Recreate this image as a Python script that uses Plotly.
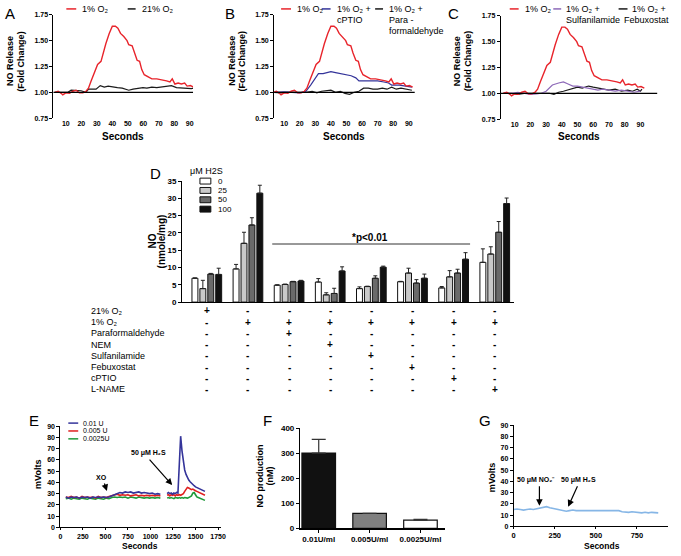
import plotly.graph_objects as go

W, H = 681, 556
FONT = "Liberation Sans, Arial, sans-serif"

# ---------------- Panels A-C : NO release (fold change) vs seconds ----------------
t_1pct = [2.8, 5, 7, 8, 10, 12.4, 14.5, 16.6, 18.7, 21, 23, 24.6, 26.3, 28.4, 30.5, 32.7, 33.7, 35.8, 38, 40,
          42, 43.6, 45.3, 47.4, 49.5, 50.6, 52.8, 54.2, 56, 57.6, 59, 60.6, 63.4, 65.5, 68.7, 73, 75, 77.2, 78.7,
          80.4, 82.5, 84.6, 86.7, 88.3, 90.4, 92.5]
o2_1pct = [1.00, 1.01, 0.99, 0.975, 0.995, 0.99, 1.01, 1.02, 0.995, 0.995, 1.01, 1.04, 1.11, 1.19, 1.27, 1.30,
           1.36, 1.47, 1.57, 1.64, 1.64, 1.62, 1.57, 1.54, 1.50, 1.46, 1.45, 1.38, 1.31, 1.30, 1.22, 1.17, 1.15,
           1.13, 1.13, 1.12, 1.11, 1.10, 1.13, 1.08, 1.09, 1.08, 1.09, 1.06, 1.065, 1.05]

t_21pct = [2.8, 11.3, 13.4, 16.6, 19.8, 23, 24.6, 26.7, 29.5, 32.2, 34.8, 37.3, 40.1, 43.3, 46.4, 49.2, 50.6,
           53.4, 56.4, 59.8, 62.3, 65.5, 68.7, 71.9, 75, 78.2, 81.4, 84.6, 87.8, 91, 92.5]
o2_21pct = [1.00, 1.00, 1.02, 1.02, 1.015, 1.00, 1.03, 1.03, 1.03, 1.065, 1.05, 1.06, 1.05, 1.045, 1.04, 1.03,
            1.02, 1.03, 1.035, 1.045, 1.04, 1.05, 1.045, 1.05, 1.06, 1.065, 1.045, 1.04, 1.035, 1.035, 1.04]

t_cptio = [3, 10, 20, 24, 27, 30, 32, 35, 38, 40, 43, 46, 50, 53, 56, 58, 60, 65, 70, 74, 77, 79, 81, 84, 88, 92]
o2_cptio = [1.00, 1.005, 0.995, 1.01, 1.07, 1.13, 1.18, 1.18, 1.19, 1.20, 1.19, 1.18, 1.17, 1.16, 1.14, 1.11,
            1.11, 1.11, 1.11, 1.10, 1.09, 1.07, 1.07, 1.07, 1.06, 1.05]

t_para = [3, 8, 12, 16, 20, 24, 28, 31, 34, 37, 40, 43, 46, 49, 52, 55, 58, 61, 64, 67, 70, 73, 76, 79, 82, 85,
          88, 92]
o2_para = [1.00, 0.995, 1.00, 1.00, 0.995, 1.00, 1.01, 0.995, 1.01, 1.015, 1.02, 1.00, 1.01, 0.99, 0.98, 1.00,
           1.01, 1.04, 1.04, 1.03, 1.03, 1.04, 1.03, 1.05, 1.03, 1.04, 1.03, 1.02]

t_sulf = [3, 8, 12, 16, 20, 24, 27, 30, 34, 38, 41, 44, 47, 50, 53, 56, 60, 63, 66, 70, 74, 78, 82, 86, 90]
o2_sulf = [1.00, 1.00, 1.01, 1.00, 0.99, 0.995, 1.00, 1.02, 1.08, 1.10, 1.11, 1.09, 1.07, 1.07, 1.06, 1.05,
           1.04, 1.03, 1.04, 1.03, 1.02, 1.03, 1.02, 1.01, 1.02]

t_febux = [3, 8, 12, 16, 20, 24, 28, 32, 35, 38, 41, 45, 50, 53, 57, 60, 63, 67, 70, 74, 78, 82, 85, 88, 90, 91]
o2_febux = [1.00, 1.00, 0.99, 1.00, 1.00, 1.00, 1.00, 1.00, 0.99, 1.01, 1.02, 1.04, 1.06, 1.05, 1.07, 1.06,
            1.05, 1.04, 1.03, 1.04, 1.02, 1.03, 1.02, 1.04, 1.02, 1.04]

abc_ticks = [10, 20, 30, 40, 50, 60, 70, 80, 90]
fold_ticks = [0.75, 1.00, 1.25, 1.50, 1.75]

# ---------------- Panel D : NO (nmole/mg) ----------------
d_groups = [0, 1, 2, 3, 4, 5, 6, 7]
h2s_levels = ["0", "25", "50", "100"]
h2s_0 = [6.9, 9.6, 4.9, 5.8, 3.9, 5.9, 4.1, 11.5]
h2s_25 = [3.9, 17.0, 5.1, 2.1, 4.5, 8.4, 7.3, 13.9]
h2s_50 = [8.1, 22.3, 5.9, 2.5, 6.9, 5.5, 8.4, 20.2]
h2s_100 = [8.0, 31.5, 6.1, 9.0, 10.1, 6.9, 12.4, 28.5]
err_0 = [0.1, 1.3, 0.1, 1.0, 0.5, 0.1, 0.4, 3.9]
err_25 = [2.4, 3.2, 0.1, 0.6, 0.1, 1.4, 1.8, 2.1]
err_50 = [0.2, 2.1, 0.1, 1.5, 0.7, 1.0, 1.1, 3.1]
err_100 = [1.8, 2.3, 0.2, 1.2, 0.3, 1.2, 1.9, 1.6]
d_ticks = [0, 5, 10, 15, 20, 25, 30, 35]
sig_level = 16.8
row_labels = ["21% O₂", "1% O₂", "Paraformaldehyde", "NEM", "Sulfanilamide",
              "Febuxostat", "cPTIO", "L-NAME"]
row_signs = [
    "+-------",
    "-+++++++",
    "--+-----",
    "---+----",
    "----+---",
    "-----+--",
    "------+-",
    "-------+",
]

# ---------------- Panel E : mVolts vs seconds ----------------
e_t1 = [60, 90, 120, 150, 180, 210, 240, 270, 300, 330, 360, 390, 420, 450, 480, 510, 540, 570, 600, 630, 660,
        690, 720, 750, 780, 810, 840, 870, 900, 930, 960, 990, 1020, 1050, 1080, 1110]
e_blue1 = [27, 26, 27, 26.5, 27, 26, 27, 26.5, 27, 26, 27, 26.5, 27, 26.5, 27, 26.5, 27,
           28, 29.5, 30, 31, 30.5, 31.5, 31, 31.5, 30.5, 31, 31.5, 30.5, 31, 30.5, 30, 30.5, 29.5, 30, 29.5]
e_red1 = [27, 26.5, 27.5, 26.5, 27, 26, 27.5, 26.5, 27, 26.5, 27, 26, 27.5, 26.5, 27, 26.5, 27.5,
          28, 29, 29.5, 28.5, 29, 28.5, 29, 28, 28.5, 29, 28, 28.5, 28, 28.5, 28, 28.5, 28, 28.5, 28]
e_green1 = [25.5, 26, 25, 26, 25.5, 25, 26, 25.5, 25, 26, 25.5, 25, 26, 25.5, 25, 26, 25.5,
            26.5, 27, 26.5, 27, 26.5, 27, 26, 27, 26.5, 26, 27, 26.5, 26, 26.5, 26, 26.5, 26, 26.5, 26]
e_t2 = [1185, 1200, 1215, 1230, 1245, 1260, 1275, 1290, 1305, 1320, 1335, 1350, 1365, 1380, 1395, 1410, 1425,
        1440, 1455, 1470, 1485, 1500, 1515, 1530, 1545, 1560, 1575, 1590, 1605]
e_blue2 = [30, 31, 30, 30.5, 29.5, 30.5, 30, 31, 30.5, 60, 81, 68, 57, 51, 47, 44, 42, 40.5, 39, 38, 37, 36,
           35.5, 34.5, 34, 33.5, 33, 32.5, 32]
e_red2 = [28.5, 29, 28, 29, 28.5, 29, 28, 29, 28.5, 29, 28.5, 29.5, 30, 32, 34.5, 35.5, 35, 34.5, 33.5, 34, 33,
          32.5, 32, 31.5, 31, 30.5, 30, 29.5, 28.5]
e_green2 = [26, 26.5, 26, 26.5, 26, 25.5, 26.5, 26, 26, 26.5, 26, 26.5, 26, 26.5, 26, 26, 26.5, 27, 28, 30.5,
            31, 29, 27, 26.5, 26, 25.5, 25, 24.5, 24]
e_names = ["0.01 U", "0.005 U", "0.0025U"]
e_xticks = [0, 250, 500, 750, 1000, 1250, 1500, 1750]
mv_ticks = [0, 10, 20, 30, 40, 50, 60, 70, 80, 90]

# ---------------- Panel F : NO production (nM) ----------------
f_labels = ["0.01U/ml", "0.005U/ml", "0.0025U/ml"]
f_vals = [300, 60, 33]
f_err = [55, 0, 3]
f_ticks = [0, 100, 200, 300, 400]

# ---------------- Panel G : mVolts vs seconds ----------------
g_t = [0, 20, 40, 60, 80, 100, 120, 140, 160, 180, 200, 220, 240, 260, 280, 300, 320, 340, 360, 380, 400, 420,
       440, 460, 480, 500, 520, 540, 560, 580, 600, 620, 640, 660, 680, 700, 720, 740, 760, 780, 800, 820, 840,
       860, 880]
g_mv = [15, 15.5, 15, 14.5, 15, 15.5, 15, 15.5, 16, 17, 17.5, 16.5, 16, 15, 14.5, 14, 13.5, 14, 14.5, 14, 14,
        13.5, 14, 14, 14, 13.5, 14, 13.5, 14, 13.5, 14, 13.5, 14, 13, 12.5, 12.5, 13, 12.5, 12.5, 12, 12.5, 12,
        12.5, 12, 12]
g_xticks = [0, 250, 500, 750]

RED = "#e8242b"
NAVY = "#34349a"
PURPLE = "#8d69b8"
BLACK = "#1a1a1a"


def xd(p0, p1):
    return [p0 / W, p1 / W]


def yd(top, bottom):
    return [1 - bottom / H, 1 - top / H]


annotations = []
shapes = []


def txt(x, y, s, size=9, bold=False, anchor="left", angle=0, color="black"):
    annotations.append(dict(x=x / W, y=1 - y / H, xref="paper", yref="paper", text=s, showarrow=False,
                            xanchor=anchor, yanchor="middle", textangle=angle,
                            font=dict(family=FONT, size=size, color=color,
                                      weight="bold" if bold else "normal")))


def arrow(xt, yt, xs, ys):
    annotations.append(dict(x=xt / W, y=1 - yt / H, xref="paper", yref="paper", ax=xs - xt, ay=ys - yt,
                            text="", showarrow=True, arrowhead=2, arrowsize=1.1, arrowwidth=1.2,
                            arrowcolor="black"))


def hline(x0, x1, y, color, width=1.5):
    shapes.append(dict(type="line", xref="paper", yref="paper", x0=x0 / W, x1=x1 / W,
                       y0=1 - y / H, y1=1 - y / H, line=dict(color=color, width=width)))


def yaxis(domain, rng, vals, size, anchor, fmt=None):
    d = dict(domain=domain, range=rng, tickvals=vals, showline=True, linecolor="black", linewidth=1,
             ticks="outside", ticklen=3, tickwidth=1, tickcolor="black", showgrid=False, zeroline=False,
             anchor=anchor, tickfont=dict(family=FONT, size=size, color="black", weight="bold"))
    if fmt:
        d["tickformat"] = fmt
    return d


fig = go.Figure()

# ---- A
fig.add_trace(go.Scatter(x=t_21pct, y=o2_21pct, mode="lines", line=dict(color=BLACK, width=1.2),
                         xaxis="x", yaxis="y", showlegend=False))
fig.add_trace(go.Scatter(x=t_1pct, y=o2_1pct, mode="lines", line=dict(color=RED, width=1.4),
                         xaxis="x", yaxis="y", showlegend=False))
# ---- B
fig.add_trace(go.Scatter(x=t_para, y=o2_para, mode="lines", line=dict(color=BLACK, width=1.2),
                         xaxis="x2", yaxis="y2", showlegend=False))
fig.add_trace(go.Scatter(x=t_cptio, y=o2_cptio, mode="lines", line=dict(color=NAVY, width=1.2),
                         xaxis="x2", yaxis="y2", showlegend=False))
fig.add_trace(go.Scatter(x=t_1pct, y=o2_1pct, mode="lines", line=dict(color=RED, width=1.4),
                         xaxis="x2", yaxis="y2", showlegend=False))
# ---- C
fig.add_trace(go.Scatter(x=t_febux, y=o2_febux, mode="lines", line=dict(color=BLACK, width=1.2),
                         xaxis="x3", yaxis="y3", showlegend=False))
fig.add_trace(go.Scatter(x=t_sulf, y=o2_sulf, mode="lines", line=dict(color=PURPLE, width=1.2),
                         xaxis="x3", yaxis="y3", showlegend=False))
fig.add_trace(go.Scatter(x=t_1pct, y=o2_1pct, mode="lines", line=dict(color=RED, width=1.4),
                         xaxis="x3", yaxis="y3", showlegend=False))

# ---- D bars
d_colors = ["#ffffff", "#c9c9c9", "#6a6a6a", "#111111"]
for name, vals, errs, col in zip(h2s_levels, [h2s_0, h2s_25, h2s_50, h2s_100],
                                 [err_0, err_25, err_50, err_100], d_colors):
    fig.add_trace(go.Bar(x=d_groups, y=vals, name=name, marker=dict(color=col, line=dict(color="#111", width=1)),
                         error_y=dict(type="data", array=errs, arrayminus=[0] * len(errs), symmetric=False,
                                      color="#222", thickness=1, width=2),
                         xaxis="x4", yaxis="y4", showlegend=False))

# ---- E
e_cols = [NAVY, "#e0201f", "#1e9a3a"]
for seg_t, series in [(e_t1, [e_blue1, e_red1, e_green1]), (e_t2, [e_blue2, e_red2, e_green2])]:
    for ys, col in zip(series[::-1], e_cols[::-1]):
        fig.add_trace(go.Scatter(x=seg_t, y=ys, mode="lines", line=dict(color=col, width=1.6),
                                 xaxis="x5", yaxis="y5", showlegend=False))

# ---- F
fig.add_trace(go.Bar(x=[0, 1, 2], y=f_vals, width=0.66,
                     marker=dict(color=["#111111", "#808080", "#ffffff"], line=dict(color="#111", width=1.2)),
                     error_y=dict(type="data", array=f_err, arrayminus=[0, 0, 0], symmetric=False,
                                  color="#333", thickness=1.2, width=7),
                     xaxis="x6", yaxis="y6", showlegend=False))

# ---- G
fig.add_trace(go.Scatter(x=g_t, y=g_mv, mode="lines", line=dict(color="#86b6e6", width=1.6),
                         xaxis="x7", yaxis="y7", showlegend=False))

noline_x = dict(showline=False, ticks="", showgrid=False, zeroline=False,
                tickfont=dict(family=FONT, size=7, color="black", weight="bold"))

layout = dict(
    width=W, height=H, autosize=False, margin=dict(l=0, r=0, t=0, b=0),
    paper_bgcolor="white", plot_bgcolor="white", barmode="group", bargap=0.23, bargroupgap=0.25,
    hovermode=False,
    xaxis=dict(domain=xd(52, 193), range=[2, 92.1], tickvals=abc_ticks, anchor="y", **noline_x),
    yaxis=yaxis(yd(11, 116), [0.75, 1.75], fold_ticks, 7, "x", ".2f"),
    xaxis2=dict(domain=xd(275, 417), range=[3.6, 93.8], tickvals=abc_ticks, anchor="y2", **noline_x),
    yaxis2=yaxis(yd(11, 116), [0.75, 1.75], fold_ticks, 7, "x2", ".2f"),
    xaxis3=dict(domain=xd(504, 662), range=[1.2, 100.7], tickvals=abc_ticks, anchor="y3", **noline_x),
    yaxis3=yaxis(yd(12, 117), [0.75, 1.75], fold_ticks, 7, "x3", ".2f"),
    xaxis4=dict(domain=xd(182, 517), range=[-0.6, 7.46], showticklabels=False, ticks="", showgrid=False,
                zeroline=False, showline=True, linecolor="black", linewidth=1.2, anchor="y4"),
    yaxis4=yaxis(yd(180, 303), [0, 35], d_ticks, 8, "x4"),
    xaxis5=dict(domain=xd(59, 221), range=[0, 1780], tickvals=e_xticks, showline=True, linecolor="black",
                linewidth=1, ticks="outside", ticklen=2, tickcolor="black", showgrid=False, zeroline=False,
                anchor="y5", tickfont=dict(family=FONT, size=7, color="black", weight="bold")),
    yaxis5=yaxis(yd(429, 532), [0, 90], mv_ticks, 7, "x5"),
    xaxis6=dict(domain=xd(301, 448), range=[-0.37, 2.49], tickvals=[0, 1, 2], ticktext=f_labels,
                showline=True, linecolor="black", linewidth=1.2, ticks="outside", ticklen=3, tickcolor="black",
                showgrid=False, zeroline=False, anchor="y6",
                tickfont=dict(family=FONT, size=8, color="black", weight="bold")),
    yaxis6=yaxis(yd(431, 533), [0, 400], f_ticks, 8, "x6"),
    xaxis7=dict(domain=xd(517, 673), range=[0, 940], tickvals=g_xticks, showline=True, linecolor="black",
                linewidth=1, ticks="outside", ticklen=2, tickcolor="black", showgrid=False, zeroline=False,
                anchor="y7", tickfont=dict(family=FONT, size=7.5, color="black", weight="bold")),
    yaxis7=yaxis(yd(428, 531), [0, 90], mv_ticks, 7, "x7"),
)

# reference lines at fold change 1.00
for xa, ya in [("x", "y"), ("x2", "y2"), ("x3", "y3")]:
    shapes.append(dict(type="line", xref=xa + " domain", yref=ya, x0=0, x1=1, y0=1.0, y1=1.0,
                       line=dict(color="black", width=1.2)))

# significance line in D
shapes.append(dict(type="line", xref="x4", yref="y4", x0=1.59, x1=6.4, y0=sig_level, y1=sig_level,
                   line=dict(color="#333", width=1)))

# ---- panel letters
for lx, ly, s in [(8, 10, "A"), (230, 10, "B"), (456, 10, "C"), (155, 172, "D"), (32, 423, "E"),
                  (268, 423, "F"), (488, 423, "G")]:
    txt(lx, ly, s, size=15, anchor="center")

# ---- A-C axis titles
for cx in [8, 232, 460]:
    txt(cx, 58, "NO Release", size=9, bold=True, anchor="center", angle=-90)
    txt(cx + 11, 58, "(Fold Change)", size=9, bold=True, anchor="center", angle=-90)
for cx in [122, 346, 583]:
    txt(cx, 135, "Seconds", size=10, bold=True, anchor="center")

# ---- A legend
hline(65, 75, 5, RED)
txt(79, 5, "1% O₂", size=9)
hline(127, 135, 5, BLACK)
txt(139, 5, "21% O₂", size=9)
# ---- B legend
hline(282, 292, 5, RED)
txt(296, 5, "1% O₂", size=9)
hline(323, 332, 5, NAVY)
txt(336, 5, "1% O₂ +", size=9)
txt(336, 16, "cPTIO", size=9)
hline(377, 385, 5, BLACK)
txt(389, 5, "1% O₂ +", size=9)
txt(389, 16, "Para -", size=9)
txt(389, 27, "formaldehyde", size=9)
# ---- C legend
hline(513, 522, 5, RED)
txt(526, 5, "1% O₂", size=9)
hline(557, 565, 5, PURPLE)
txt(568, 5, "1% O₂ +", size=9)
txt(568, 16, "Sulfanilamide", size=9)
hline(623, 632, 5, BLACK)
txt(635, 5, "1% O₂ +", size=9)
txt(626, 16, "Febuxostat", size=9)

# ---- D legend, titles, table
txt(188, 170, "μM H2S", size=9)
for i, (lab, col) in enumerate(zip(h2s_levels, d_colors)):
    yy = 180 + i * 9.5
    shapes.append(dict(type="rect", xref="paper", yref="paper", x0=200 / W, x1=211 / W,
                       y0=1 - (yy + 3) / H, y1=1 - (yy - 3) / H, fillcolor=col,
                       line=dict(color="#111", width=1)))
    txt(216, yy, lab, size=8)
txt(152, 241, "NO", size=10, bold=True, anchor="center", angle=-90)
txt(161, 241, "(nmole/mg)", size=10, bold=True, anchor="center", angle=-90)
txt(372, 237, "*p<0.01", size=10, bold=True, anchor="center")
for r, (lab, signs) in enumerate(zip(row_labels, row_signs)):
    yy = 312 + r * 11.4
    txt(88, yy, lab, size=9)
    for gi, sg in zip(d_groups, signs):
        annotations.append(dict(x=gi, y=1 - yy / H, xref="x4", yref="paper", text=sg, showarrow=False,
                                xanchor="center", yanchor="middle",
                                font=dict(family=FONT, size=10, color="black", weight="bold")))

# ---- E texts
txt(37, 478, "mVolts", size=9, bold=True, anchor="center", angle=-90)
txt(139, 551, "Seconds", size=8.5, bold=True, anchor="center")
for i, (nm, col) in enumerate(zip(e_names, e_cols)):
    yy = 426 + i * 8
    hline(67, 77, yy, col, 1.5)
    txt(80, yy, nm, size=7)
txt(101, 481, "XO", size=7, bold=True, anchor="center")
arrow(106, 495, 103, 486)
txt(148, 456, "50 μM H₂S", size=7, bold=True, anchor="center")
arrow(172, 489, 148, 462)

# ---- F texts
txt(261, 480, "NO production", size=9, bold=True, anchor="center", angle=-90)
txt(271, 480, "(nM)", size=9, bold=True, anchor="center", angle=-90)

# ---- G texts
txt(495, 481, "mVolts", size=9, bold=True, anchor="center", angle=-90)
txt(606, 551, "Seconds", size=8.5, bold=True, anchor="center")
txt(540, 484, "50 μM NO₂⁻", size=7, bold=True, anchor="center")
arrow(543, 510, 543, 489)
txt(582, 484, "50 μM H₂S", size=7, bold=True, anchor="center")
arrow(572, 511, 582, 489)

layout["annotations"] = annotations
layout["shapes"] = shapes
fig.update_layout(**layout)
fig.write_html("out.html", config={"displayModeBar": False, "staticPlot": True},
               post_script="document.body.style.margin='0';document.body.style.overflow='hidden';")
